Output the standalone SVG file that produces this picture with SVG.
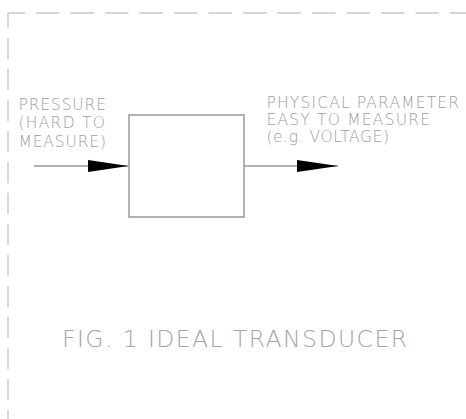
<svg xmlns="http://www.w3.org/2000/svg" width="466" height="419" viewBox="0 0 466 419">
  <style>
    .frame { fill: none; stroke: #c9c9c9; stroke-width: 1.4; }
    .box { fill: #ffffff; stroke: #8a8a8a; stroke-width: 1.3; }
    .conn { fill: none; stroke: #9a9a9a; stroke-width: 1.4; }
    .lbl { font-family: "DejaVu Sans", "Liberation Sans", sans-serif; font-size: 15.5px; fill: #9c9c9c; font-weight: 300; }
    .cap { font-family: "DejaVu Sans", "Liberation Sans", sans-serif; font-size: 23.5px; fill: #a4a4a4; font-weight: 300; }
  </style>
  <defs>
    <marker id="head" viewBox="0 0 41 12" refX="41" refY="6" markerWidth="41" markerHeight="12" markerUnits="userSpaceOnUse" orient="auto">
      <path d="M0,0 L41,6 L0,12 Z" fill="#000000"/>
    </marker>
  </defs>
  <rect width="466" height="419" fill="#ffffff"/>
  <g id="frame">
    <line class="frame" x1="8" y1="13" x2="466" y2="13" stroke-dasharray="23.5 11" stroke-dashoffset="6.5"/>
    <line class="frame" x1="8" y1="13" x2="8" y2="419" stroke-dasharray="21 10" stroke-dashoffset="6"/>
  </g>
  <g id="connectors">
    <line class="conn" x1="34" y1="166" x2="128.5" y2="166" marker-end="url(#head)"/>
    <line class="conn" x1="244" y1="166" x2="338" y2="166" marker-end="url(#head)"/>
  </g>
  <g id="transducer">
    <rect class="box" x="129" y="115" width="115" height="102"/>
  </g>
  <g id="input-label">
    <text class="lbl" x="18.5" y="109.5" textLength="87.5" lengthAdjust="spacing">PRESSURE</text>
    <text class="lbl" x="18.5" y="128" textLength="86.5" lengthAdjust="spacing">(HARD TO</text>
    <text class="lbl" x="18.5" y="146.5" textLength="87.5" lengthAdjust="spacing">MEASURE)</text>
  </g>
  <g id="output-label">
    <text class="lbl" x="266.5" y="107.5" textLength="192.5" lengthAdjust="spacing">PHYSICAL PARAMETER</text>
    <text class="lbl" x="266.5" y="124.5" textLength="163.5" lengthAdjust="spacing">EASY TO MEASURE</text>
    <text class="lbl" x="266.5" y="141.5" textLength="122.5" lengthAdjust="spacing">(e.g. VOLTAGE)</text>
  </g>
  <g id="caption">
    <text class="cap" x="62" y="347" textLength="345" lengthAdjust="spacing">FIG. 1 IDEAL TRANSDUCER</text>
  </g>
</svg>
